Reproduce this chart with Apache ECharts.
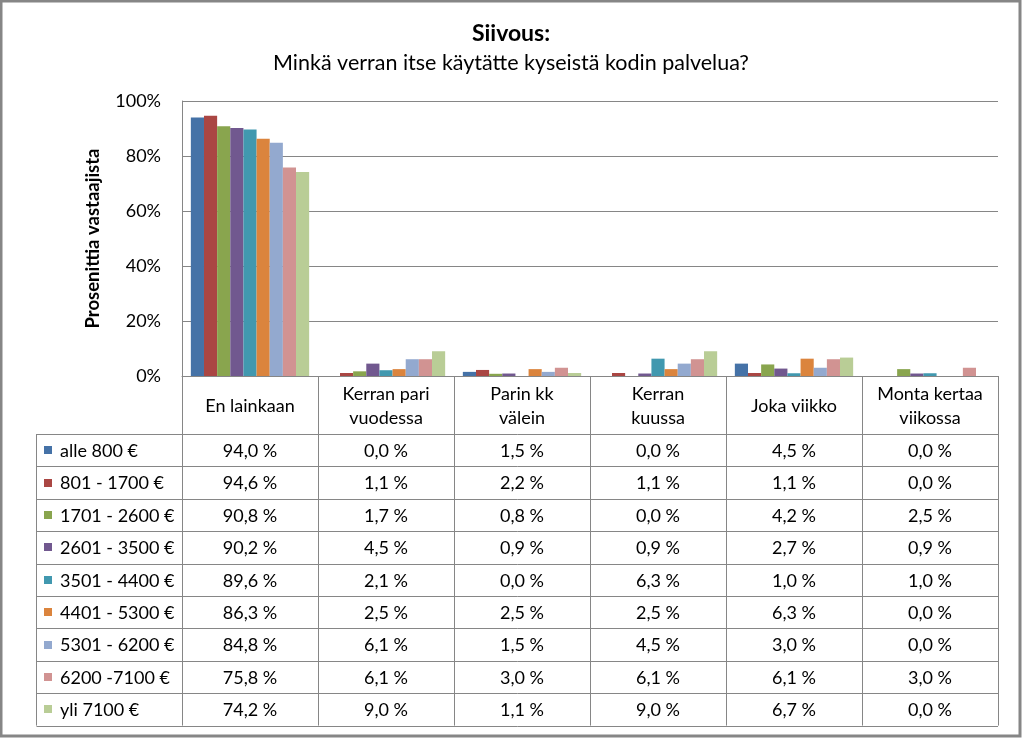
<!DOCTYPE html>
<html>
<head>
<meta charset="utf-8">
<script src="https://cdn.jsdelivr.net/npm/echarts@6/dist/echarts.min.js"></script>
<style>
html,body{margin:0;padding:0;background:#fff;}
#c{width:1022px;height:738px;}
</style>
</head>
<body>
<div id="c"></div>
<script>
// ---- data ----
var categories = ['En lainkaan', 'Kerran pari\nvuodessa', 'Parin kk\nvälein', 'Kerran\nkuussa', 'Joka viikko', 'Monta kertaa\nviikossa'];
var seriesNames = ['alle 800 €', '801 - 1700 €', '1701 - 2600 €', '2601 - 3500 €', '3501 - 4400 €', '4401 - 5300 €', '5301 - 6200 €', '6200 -7100 €', 'yli 7100 €'];
var s1 = [94.0, 0.0, 1.5, 0.0, 4.5, 0.0];
var s2 = [94.6, 1.1, 2.2, 1.1, 1.1, 0.0];
var s3 = [90.8, 1.7, 0.8, 0.0, 4.2, 2.5];
var s4 = [90.2, 4.5, 0.9, 0.9, 2.7, 0.9];
var s5 = [89.6, 2.1, 0.0, 6.3, 1.0, 1.0];
var s6 = [86.3, 2.5, 2.5, 2.5, 6.3, 0.0];
var s7 = [84.8, 6.1, 1.5, 4.5, 3.0, 0.0];
var s8 = [75.8, 6.1, 3.0, 6.1, 6.1, 3.0];
var s9 = [74.2, 9.0, 1.1, 9.0, 6.7, 0.0];
var yTicks = [0, 20, 40, 60, 80, 100];

var seriesData = [s1, s2, s3, s4, s5, s6, s7, s8, s9];
var colors = ['#4572A7', '#AA4643', '#89A54E', '#71588F', '#4198AF', '#DB843D', '#93A9CF', '#D19392', '#B9CD96'];
var FONT = 'Lato, "Liberation Sans", sans-serif';
var GRID = {left: 182, right: 24, top: 101, bottom: 362};
var LINE = '#868686';

var chart = echarts.init(document.getElementById('c'), null, {renderer: 'canvas'});

var series = seriesData.map(function (d, i) {
  return {
    name: seriesNames[i],
    type: 'bar',
    data: d,
    barGap: '0%',
    barCategoryGap: '13%',
    itemStyle: {color: colors[i]},
    animation: false
  };
});

chart.setOption({
  animation: false,
  textStyle: {fontFamily: FONT},
  title: {
    text: 'Siivous:',
    subtext: 'Minkä verran itse käytätte kyseistä kodin palvelua?',
    left: 'center',
    top: 17,
    itemGap: 7,
    textStyle: {fontFamily: FONT, fontSize: 23, fontWeight: 'bold', color: '#000'},
    subtextStyle: {fontFamily: FONT, fontSize: 21.5, color: '#000'}
  },
  grid: GRID,
  xAxis: {
    type: 'category',
    data: categories,
    axisLine: {show: true, lineStyle: {color: LINE, width: 1}},
    axisTick: {show: false},
    axisLabel: {show: false},
    splitLine: {show: false}
  },
  yAxis: {
    type: 'value',
    min: yTicks[0],
    max: yTicks[yTicks.length - 1],
    interval: 20,
    name: 'Prosenittia vastaajista',
    nameLocation: 'middle',
    nameRotate: 90,
    nameGap: 79,
    nameTextStyle: {fontFamily: FONT, fontSize: 18.5, fontWeight: 'bold', color: '#000'},
    axisLine: {show: true, lineStyle: {color: LINE, width: 1}},
    axisTick: {show: false},
    axisLabel: {formatter: '{value}%', fontFamily: FONT, fontSize: 18, color: '#000', margin: 21},
    splitLine: {show: true, lineStyle: {color: LINE, width: 1}}
  },
  series: series
});

// ---- data table below the plot ----
function buildTable() {
  var n = categories.length;
  var x0 = chart.convertToPixel({xAxisIndex: 0}, 0);
  var x1 = chart.convertToPixel({xAxisIndex: 0}, 1);
  var cw = x1 - x0;
  var left = x0 - cw / 2;
  var right = left + cw * n;
  var top = chart.convertToPixel({yAxisIndex: 0}, 0);
  var headerH = 58;
  var rowH = 32.4;
  var tableLeft = 36.5;
  var rows = seriesNames.length;
  var bottom = top + headerH + rowH * rows;
  var els = [];
  function line(xa, ya, xb, yb) {
    els.push({type: 'line', silent: true, shape: {x1: xa, y1: ya, x2: xb, y2: yb},
      style: {stroke: LINE, lineWidth: 1}});
  }
  for (var c = 0; c <= n; c++) {
    var xx = Math.round(left + c * cw) + 0.5;
    line(xx, top, xx, bottom);
  }
  line(tableLeft, top + headerH, tableLeft, bottom);
  for (var r = 0; r <= rows; r++) {
    var yy = Math.round(top + headerH + r * rowH) + 0.5;
    line(tableLeft, yy, right, yy);
  }
  for (var c2 = 0; c2 < n; c2++) {
    els.push({type: 'text', silent: true,
      style: {text: categories[c2], x: left + (c2 + 0.5) * cw, y: top + headerH / 2 + 1,
        align: 'center', verticalAlign: 'middle', font: '18px ' + FONT, fill: '#000', lineHeight: 24}});
  }
  for (var r2 = 0; r2 < rows; r2++) {
    var cy = top + headerH + (r2 + 0.5) * rowH;
    els.push({type: 'rect', silent: true, shape: {x: tableLeft + 7.5, y: Math.round(cy - 4), width: 8, height: 8},
      style: {fill: colors[r2]}});
    els.push({type: 'text', silent: true,
      style: {text: seriesNames[r2], x: tableLeft + 23.5, y: cy + 1, align: 'left', verticalAlign: 'middle',
        font: '18px ' + FONT, fill: '#000'}});
    for (var c3 = 0; c3 < n; c3++) {
      var v = seriesData[r2][c3];
      els.push({type: 'text', silent: true,
        style: {text: v.toFixed(1).replace('.', ',') + ' %', x: left + (c3 + 0.5) * cw, y: cy + 1,
          align: 'center', verticalAlign: 'middle', font: '18px ' + FONT, fill: '#000'}});
    }
  }
  els.push({type: 'rect', silent: true, shape: {x: 1, y: 1, width: 1019, height: 735},
    style: {fill: 'none', stroke: LINE, lineWidth: 3}});
  chart.setOption({graphic: {elements: els}});
}
buildTable();
</script>
</body>
</html>
